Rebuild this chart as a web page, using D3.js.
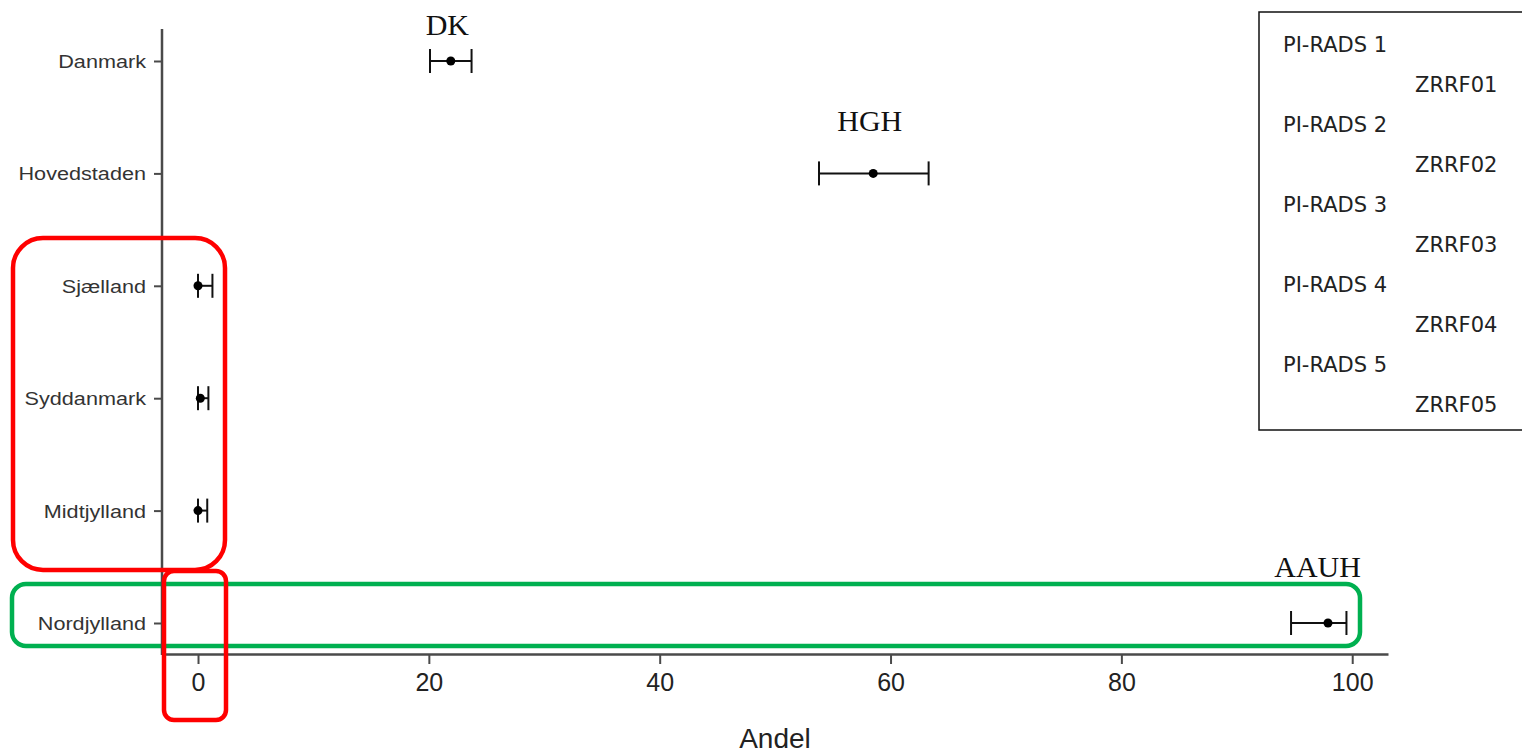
<!DOCTYPE html>
<html><head><meta charset="utf-8">
<script src="https://cdn.jsdelivr.net/npm/d3@7"></script>
<style>html,body{margin:0;padding:0;background:#fff;overflow:hidden}</style>
</head><body>
<svg id="chart" width="1522" height="754"></svg>
<script>
// ---- data ----
const categories = ["Danmark","Hovedstaden","Sjælland","Syddanmark","Midtjylland","Nordjylland"];
const estimate   = [21.9, 58.5, 0.0, 0.2, 0.0, 97.9];
const lower      = [20.1, 53.8, 0.0, 0.0, 0.0, 94.7];
const upper      = [23.7, 63.3, 1.25, 0.9, 0.8, 99.5];
const xTicks     = [0, 20, 40, 60, 80, 100];
const xTitle     = "Andel";
const annotText  = ["DK", "HGH", "AAUH"];
const annotCat   = ["Danmark", "Hovedstaden", "Nordjylland"];
const annotValue = [21.6, 58.2, 97.0];
const legendMain = ["PI-RADS 1","PI-RADS 2","PI-RADS 3","PI-RADS 4","PI-RADS 5"];
const legendSub  = ["ZRRF01","ZRRF02","ZRRF03","ZRRF04","ZRRF05"];

const svg = d3.select("#chart");
const x = d3.scaleLinear().domain([-3.12, 103.1]).range([162, 1388]);
const y = d3.scalePoint().domain(categories).range([61, 623]);
const axisCol = "#4a4a4a";

// highlight frame (green, behind red)
svg.append("rect").attr("x",12).attr("y",584).attr("width",1348).attr("height",62)
  .attr("rx",14).attr("fill","none").attr("stroke","#00b050").attr("stroke-width",4.5);

// axes
const xAxis = svg.append("g").attr("transform","translate(0,654)")
  .call(d3.axisBottom(x).tickValues(xTicks).tickSize(10).tickSizeOuter(0).tickPadding(12));
xAxis.select(".domain").attr("stroke",axisCol).attr("stroke-width",2.5);
xAxis.selectAll(".tick line").attr("stroke",axisCol).attr("stroke-width",2);
xAxis.selectAll(".tick text").attr("fill","#222").attr("font-family","'Liberation Sans',Arial,sans-serif")
  .attr("font-size",25).attr("dy","0.8em").attr("y",17);

svg.append("line").attr("x1",162).attr("x2",162).attr("y1",29).attr("y2",655)
  .attr("stroke",axisCol).attr("stroke-width",2.5);
const yAxis = svg.append("g").attr("transform","translate(162,0)")
  .call(d3.axisLeft(y).tickSize(8).tickSizeOuter(0).tickPadding(8));
yAxis.select(".domain").remove();
yAxis.selectAll(".tick line").attr("stroke",axisCol).attr("stroke-width",2);
yAxis.selectAll(".tick text").attr("fill","#333").attr("font-family","'Liberation Sans',Arial,sans-serif")
  .attr("font-size",18.5).attr("x",0).attr("dy","0.35em")
  .attr("transform","translate(-16,0) scale(1.17,1)");

svg.append("text").attr("x",775).attr("y",748).attr("text-anchor","middle")
  .attr("font-family","'Liberation Sans',Arial,sans-serif").attr("font-size",28).attr("fill","#222")
  .text(xTitle);

// error bars
const rows = categories.map((c,i)=>({c, e:estimate[i], lo:lower[i], hi:upper[i]}));
const g = svg.append("g");
g.selectAll("line.whisk").data(rows).join("line").attr("class","whisk")
  .attr("x1",d=>x(d.lo)).attr("x2",d=>x(d.hi)).attr("y1",d=>y(d.c)).attr("y2",d=>y(d.c))
  .attr("stroke","#111").attr("stroke-width",2);
g.selectAll("line.capL").data(rows).join("line").attr("class","capL")
  .attr("x1",d=>x(d.lo)).attr("x2",d=>x(d.lo)).attr("y1",d=>y(d.c)-12).attr("y2",d=>y(d.c)+12)
  .attr("stroke","#111").attr("stroke-width",2);
g.selectAll("line.capR").data(rows).join("line").attr("class","capR")
  .attr("x1",d=>x(d.hi)).attr("x2",d=>x(d.hi)).attr("y1",d=>y(d.c)-12).attr("y2",d=>y(d.c)+12)
  .attr("stroke","#111").attr("stroke-width",2);
g.selectAll("circle").data(rows).join("circle")
  .attr("cx",d=>x(d.e)).attr("cy",d=>y(d.c)).attr("r",4.5).attr("fill","#000");

// annotations
const annotDy = [-26, -42, -46];
svg.selectAll("text.annot").data(annotText).join("text").attr("class","annot")
  .attr("x",(d,i)=>x(annotValue[i])).attr("y",(d,i)=>y(annotCat[i])+annotDy[i])
  .attr("text-anchor","middle").attr("font-family","'Liberation Serif','Times New Roman',serif")
  .attr("font-size",30).attr("fill","#111").text(d=>d);

// legend
svg.append("rect").attr("x",1259).attr("y",12).attr("width",270).attr("height",418)
  .attr("fill","#fff").attr("stroke","#111").attr("stroke-width",1.5);
const lg = svg.append("g").attr("font-family","'DejaVu Sans',Verdana,sans-serif").attr("font-size",21).attr("fill","#222");
lg.selectAll("text.m").data(legendMain).join("text").attr("class","m")
  .attr("x",1283).attr("y",(d,i)=>52+i*80).text(d=>d);
lg.selectAll("text.s").data(legendSub).join("text").attr("class","s")
  .attr("x",1415).attr("y",(d,i)=>92+i*80).text(d=>d);

// red frames on top
svg.append("rect").attr("x",13).attr("y",238).attr("width",212).attr("height",332)
  .attr("rx",30).attr("fill","none").attr("stroke","#ff0000").attr("stroke-width",4.5);
svg.append("rect").attr("x",164).attr("y",571).attr("width",62).attr("height",149)
  .attr("rx",10).attr("fill","none").attr("stroke","#ff0000").attr("stroke-width",4.5);
</script>
</body></html>
